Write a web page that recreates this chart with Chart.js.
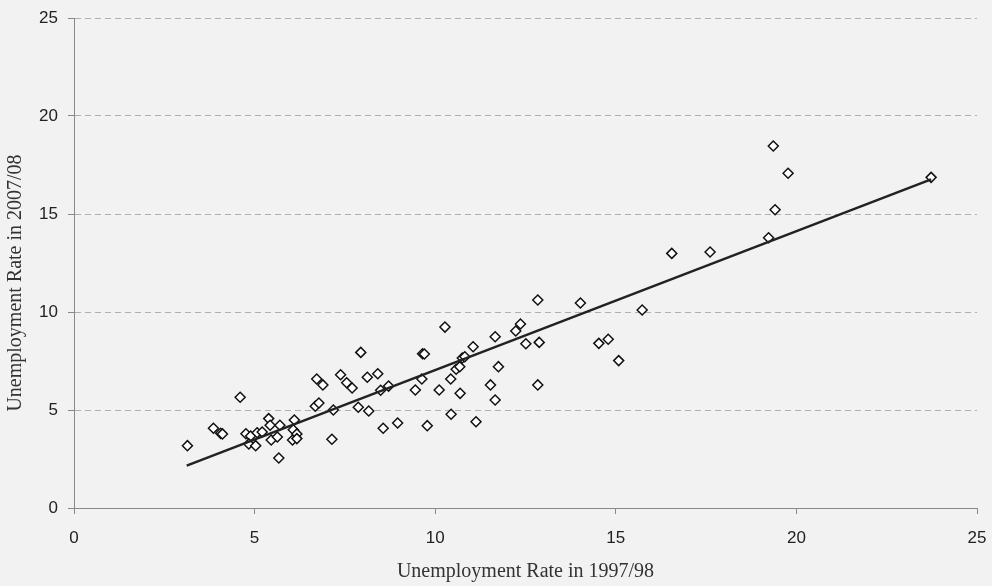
<!DOCTYPE html>
<html>
<head>
<meta charset="utf-8">
<script src="https://cdn.jsdelivr.net/npm/chart.js@4.4.1/dist/chart.umd.min.js"></script>
<style>
  html, body { margin: 0; padding: 0; background: #f2f2f2; }
  #chart { display: block; }
</style>
</head>
<body>
<canvas id="chart" width="992" height="586"></canvas>
<script>
// Unemployment rate 1997/98 (x) vs 2007/08 (y)
const rate9798 = [
  3.14, 3.86, 4.06, 4.11, 4.60, 4.76, 4.89, 4.84, 5.03, 5.07,
  5.21, 5.39, 5.43, 5.46, 5.63, 5.67, 5.70, 6.05, 6.10, 6.07,
  6.17, 6.17, 6.72, 6.89, 6.68, 6.78, 7.14, 7.18, 7.38, 7.55,
  7.70, 7.87, 7.94, 8.12, 8.16, 8.41, 8.49, 8.71, 8.56, 8.96,
  9.45, 9.63, 9.65, 9.70, 9.78, 10.11, 10.27, 10.43, 10.44, 10.58,
  10.68, 10.69, 10.75, 10.82, 11.05, 11.13, 11.53, 11.66, 11.66, 11.75,
  12.23, 12.36, 12.51, 12.84, 12.88, 12.84, 14.02, 14.53, 14.79, 15.08,
  15.73, 16.55, 17.61, 19.23, 19.41, 19.36, 19.77, 23.73
];
const rate0708 = [
  3.18, 4.07, 3.81, 3.78, 5.65, 3.79, 3.67, 3.27, 3.18, 3.84,
  3.88, 4.56, 4.22, 3.47, 3.62, 2.55, 4.22, 3.47, 4.49, 3.99,
  3.78, 3.54, 6.58, 6.28, 5.19, 5.36, 3.51, 5.00, 6.80, 6.39,
  6.12, 5.14, 7.94, 6.67, 4.95, 6.85, 6.01, 6.22, 4.07, 4.34,
  6.02, 6.58, 7.87, 7.86, 4.20, 6.02, 9.23, 6.58, 4.78, 7.08,
  7.21, 5.85, 7.65, 7.72, 8.23, 4.40, 6.28, 5.51, 8.74, 7.21,
  9.03, 9.39, 8.38, 10.61, 8.45, 6.28, 10.46, 8.40, 8.61, 7.52,
  10.10, 12.99, 13.06, 13.79, 15.22, 18.47, 17.08, 16.87
];

// fitted line end points
const trendX = [3.12, 23.73];
const trendY = [2.16, 16.77];

const axisTicks = [0, 5, 10, 15, 20, 25];

const points = rate9798.map((x, i) => ({ x: x, y: rate0708[i] }));
const trend = trendX.map((x, i) => ({ x: x, y: trendY[i] }));

const tickFont = { family: "'Liberation Sans', Arial, sans-serif", size: 17 };
const titleFont = { family: "'Liberation Serif', 'Times New Roman', serif", size: 20 };

// trailing spaces push the rotated title a little down, like the original
const yTitle = "Unemployment Rate in 2007/08" + "\u00a0".repeat(8);

new Chart(document.getElementById("chart"), {
  type: "scatter",
  data: {
    datasets: [
      {
        type: "line",
        data: trend,
        borderColor: "#222",
        borderWidth: 2.5,
        pointRadius: 0,
        fill: false,
        showLine: true,
      },
      {
        data: points,
        pointStyle: "rectRot",
        pointRadius: 5,
        backgroundColor: "#fff",
        borderColor: "#111",
        borderWidth: 1.5,
      },
    ],
  },
  options: {
    responsive: false,
    animation: false,
    events: [],
    layout: { padding: { left: 0, right: 15, top: 18, bottom: 0 } },
    plugins: {
      legend: { display: false },
      tooltip: { enabled: false },
    },
    scales: {
      x: {
        type: "linear",
        min: 0,
        max: 25,
        afterBuildTicks: (scale) => {
          scale.ticks = axisTicks.map((v) => ({ value: v }));
        },
        afterFit: (scale) => {
          scale.height = 78;
          scale.paddingLeft = 0;
          scale.paddingRight = 0;
        },
        border: { color: "#888", width: 1 },
        grid: {
          drawOnChartArea: false,
          drawTicks: true,
          tickLength: 6,
          tickColor: "#888",
        },
        ticks: { color: "#222", font: tickFont, padding: 14 },
        title: {
          display: true,
          text: "Unemployment Rate in 1997/98",
          color: "#333",
          font: titleFont,
          padding: { top: 0, bottom: 2 },
        },
      },
      y: {
        type: "linear",
        min: 0,
        max: 25,
        afterBuildTicks: (scale) => {
          scale.ticks = axisTicks.map((v) => ({ value: v }));
        },
        afterFit: (scale) => {
          scale.width = 74;
          scale.paddingTop = 0;
          scale.paddingBottom = 0;
        },
        border: { color: "#888", width: 1, dash: [6, 4] },
        grid: {
          color: "#b0b0b0",
          lineWidth: 1,
          tickLength: 6,
          tickColor: "#888",
          tickBorderDash: [],
        },
        ticks: { color: "#222", font: tickFont, padding: 10 },
        title: {
          display: true,
          text: yTitle,
          color: "#333",
          font: titleFont,
          padding: { top: 4, bottom: 0 },
        },
      },
    },
  },
});
</script>
</body>
</html>
